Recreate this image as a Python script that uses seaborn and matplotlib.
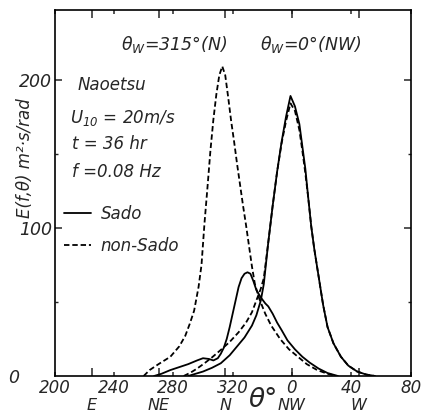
import numpy as np
import pandas as pd
import matplotlib
matplotlib.use("Agg")
import matplotlib.pyplot as plt
import seaborn as sns

# Directional spectrum E(f, theta) at Naoetsu, f = 0.08 Hz.
# Directions in degrees; values beyond 360 continue past north-west (0, 40, 80).

# theta_w = 315 deg (N), non-Sado
theta_n_nonsado = [260, 264, 270, 278, 284, 288, 291, 294, 297, 299, 301, 303, 305, 307, 309, 311,
                   313, 315, 317, 319, 321, 323, 325, 327, 329, 331, 333, 335, 338, 342, 346, 352,
                   358, 364, 370, 377, 384, 390]
e_n_nonsado = [0, 4, 8, 13, 20, 27, 35, 44, 60, 75, 103, 127, 152, 173, 190, 203,
               209, 203, 188, 172, 158, 143, 129, 115, 102, 88, 74, 62, 52, 42, 34, 25,
               18, 13, 8, 4, 1.5, 0]

# theta_w = 315 deg (N), Sado
theta_n_sado = [267, 272, 278, 284, 290, 296, 300, 304, 307, 310, 312, 314, 316, 318, 320, 322,
                324, 326, 328, 330, 332, 334, 336, 339, 342, 344, 347, 350, 353, 357, 362, 367,
                372, 378, 384, 391]
e_n_sado = [0, 1.5, 4, 6, 8, 10.5, 12, 11.5, 10.5, 12, 15, 19, 25, 33, 42, 51,
            60, 66, 69, 70, 69, 64, 58, 53, 49, 47, 42, 36, 31, 24, 18, 13,
            9, 5, 2, 0]

# theta_w = 0 deg (NW), Sado
theta_nw_sado = [290, 300, 306, 312, 318, 323, 328, 333, 336, 339, 341, 344, 347, 350, 353, 356,
                 359, 362, 365, 367, 369, 371, 373, 375, 378, 381, 384, 388, 393, 398, 404, 410, 416]
e_nw_sado = [0, 3, 5.5, 8.6, 14, 20, 26, 34, 41, 51, 62, 90, 115, 138, 158, 175,
             189, 182, 170, 155, 140, 120, 101, 86, 67, 48, 33, 22, 13, 7, 3, 1, 0]

# theta_w = 0 deg (NW), non-Sado
theta_nw_nonsado = [287, 292, 296, 301, 306, 312, 318, 324, 329, 333, 336, 339, 341, 344, 347, 350,
                    353, 356, 359, 362, 365, 367, 369, 371, 373, 375, 378, 381, 384, 388, 393, 398,
                    404, 410, 416]
e_nw_nonsado = [0, 2.5, 5, 8.6, 12.5, 17.6, 23, 29.5, 36, 43, 51, 59, 66, 90, 115, 138,
                157, 172, 184, 179, 166, 152, 137, 120, 101, 86, 67, 48, 33, 22, 13, 7,
                3, 1, 0]

number_ticks = [200, 240, 280, 320, 360, 400, 440]
number_labels = ["200", "240", "280", "320", "0", "40", "80"]
compass_ticks = [225, 270, 315, 360, 405]
compass_labels = ["E", "NE", "N", "NW", "W"]

frames = []
for case, group, th, e in [
    ("N non-Sado", "non-Sado", theta_n_nonsado, e_n_nonsado),
    ("N Sado", "Sado", theta_n_sado, e_n_sado),
    ("NW Sado", "Sado", theta_nw_sado, e_nw_sado),
    ("NW non-Sado", "non-Sado", theta_nw_nonsado, e_nw_nonsado),
]:
    frames.append(pd.DataFrame({"theta": th, "E": e, "case": case, "group": group}))
df = pd.concat(frames, ignore_index=True)

sns.set_style("white")
plt.rcParams["font.family"] = ["DejaVu Sans"]
plt.rcParams["font.style"] = "italic"
plt.rcParams["mathtext.fontset"] = "dejavusans"
plt.rcParams["mathtext.default"] = "it"
plt.rcParams["font.size"] = 12

fig = plt.figure(figsize=(4.27, 4.13), dpi=100)
ax = fig.add_axes([54.7 / 427, 1 - 376 / 413, 355.9 / 427, 366 / 413])

sns.lineplot(data=df, x="theta", y="E", units="case", style="group", estimator=None,
             sort=False, color="black", linewidth=1.3,
             style_order=["Sado", "non-Sado"],
             dashes={"Sado": "", "non-Sado": (3, 1.6)}, ax=ax)

ax.set_xlim(200, 440)
ax.set_ylim(0, 247)

for s in ax.spines.values():
    s.set_linewidth(1.2)
    s.set_color("black")

# compass directions: long ticks, lower row of labels
ax.set_xticks(compass_ticks)
ax.set_xticklabels(compass_labels, fontsize=11.5)
# numeric directions: short ticks, upper row of labels
ax.set_xticks(number_ticks, minor=True)
ax.set_xticklabels(number_labels, minor=True, fontsize=12)
ax.xaxis.remove_overlapping_locs = False
ax.tick_params(axis="x", which="major", direction="in", length=6, width=1.1,
               top=True, bottom=True, pad=15.5)
ax.tick_params(axis="x", which="minor", direction="in", length=3, width=1.1,
               top=True, bottom=True, pad=2.5)

ax.set_yticks([100, 200])
ax.set_yticklabels(["100", "200"], fontsize=12.5)
ax.set_yticks([50, 150], minor=True)
ax.tick_params(axis="y", which="major", direction="in", length=5, width=1.1,
               left=True, right=True, pad=2)
ax.tick_params(axis="y", which="minor", direction="in", length=2.5, width=1.0,
               left=True, right=True)
fig.text(8 / 427, 1 - 378 / 413, "0", ha="left", va="center", fontsize=12.5)

ax.set_xlabel("θ°", fontsize=19)
ax.xaxis.set_label_coords(0.585, -0.066)
ax.xaxis.label.set_va("center")
ax.set_ylabel("")
fig.text(25 / 427, 1 - 158 / 413, "E(f,θ) m²·s/rad", rotation=90,
         ha="center", va="center", fontsize=12)


def px2th(px):
    return 200 + (px - 54.7) / 1.483


def py2e(py):
    return (376 - py) / 1.48


ax.text(px2th(174), py2e(45), r"$\theta_W$=315°(N)", ha="center", va="center", fontsize=12.5)
ax.text(px2th(311), py2e(45), r"$\theta_W$=0°(NW)", ha="center", va="center", fontsize=12.5)

ax.text(px2th(78), py2e(85), "Naoetsu", ha="left", va="center", fontsize=12)
ax.text(px2th(70), py2e(118), r"U$_{10}$ = 20m/s", ha="left", va="center", fontsize=12)
ax.text(px2th(72), py2e(144), "t = 36 hr", ha="left", va="center", fontsize=12)
ax.text(px2th(72), py2e(172), "f =0.08 Hz", ha="left", va="center", fontsize=12)

handles, labels = ax.get_legend_handles_labels()
leg = ax.legend(handles, labels, loc="upper left", frameon=False,
                bbox_to_anchor=(64 / 427, 1 - 205 / 413), bbox_transform=fig.transFigure,
                borderpad=0, borderaxespad=0, handlelength=1.6, handletextpad=0.6,
                labelspacing=0.85, fontsize=12)

fig.savefig("out.png", dpi=100)
